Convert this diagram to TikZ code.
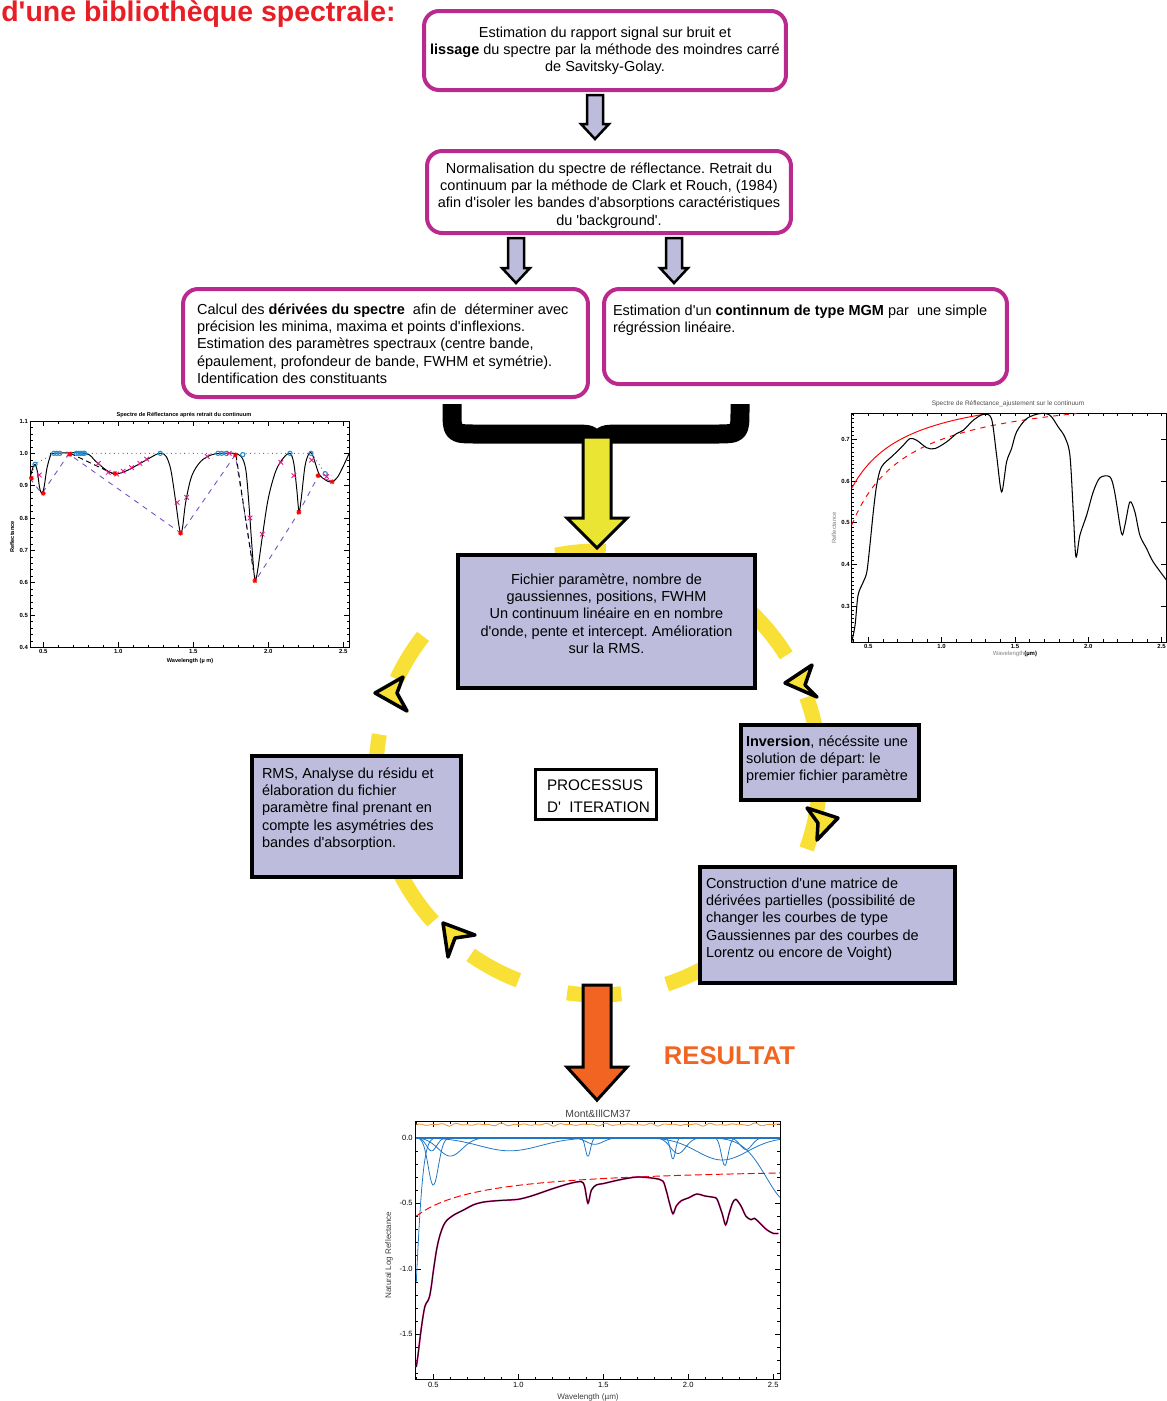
\documentclass[tikz,border=0pt]{standalone}
\usepackage{fontspec}
\usepackage{tikz}
\usetikzlibrary{calc}
\newfontfamily\lib{Liberation Sans}
\definecolor{boxpink}{RGB}{186,41,141}
\definecolor{lav}{RGB}{189,188,220}
\definecolor{cycyellow}{RGB}{248,224,54}
\definecolor{arryellow}{RGB}{233,229,50}
\definecolor{resorange}{RGB}{242,100,34}
\definecolor{titlered}{RGB}{232,30,38}
\definecolor{curveblue}{RGB}{30,118,196}
\definecolor{curveorange}{RGB}{240,150,60}
\definecolor{ptmagenta}{RGB}{228,24,138}
\definecolor{contpurple}{RGB}{120,80,190}
\definecolor{maxblue}{RGB}{40,140,205}
\newcommand{\boxfont}{\lib\fontsize{8.25}{9.9}\selectfont}
\newcommand{\boxtext}[3]{\parbox[c][#2][t]{#1}{#3}}
\newcommand{\blockarrow}[6][blockarr]{\draw[#1] let \p1=#2, \p2=#3 in (\x1-#4,\y1) -- (\x1+#4,\y1) -- (\x1+#4,\y2+#6) -- (\x1+#5,\y2+#6) -- (\x1,\y2) -- (\x1-#5,\y2+#6) -- (\x1-#4,\y2+#6) -- cycle;}
\tikzset{pinkbox/.style={draw=boxpink,line width=0.08cm,rounded corners=0.3cm,fill=white,font=\boxfont},
lavbox/.style={draw=black,line width=0.08cm,fill=lav,font=\boxfont},
blockarr/.style={draw=black,line width=0.05cm,fill=lav},
yelarr/.style={draw=black,line width=0.06cm,fill=arryellow},
orarr/.style={draw=black,line width=0.06cm,fill=resorange},
cycdash/.style={draw=cycyellow,line width=0.3cm},
cycarrow/.style={draw=black,fill=cycyellow,line width=0.07cm,line join=round},
bracepath/.style={line width=0.38cm,line join=round},
lplab/.style={font=\lib\bfseries\fontsize{3.4}{4}\selectfont,inner sep=1pt},
rplab/.style={font=\lib\bfseries\fontsize{3.4}{4}\selectfont,inner sep=1pt},
bplab/.style={font=\lib\fontsize{4.3}{5}\selectfont,inner sep=1.5pt},
tick/.style={line width=.3pt}}
\frenchspacing
\begin{document}
\begin{tikzpicture}[x=0.02cm,y=-0.02cm]
\useasboundingbox (0,0) rectangle (1167,1401);
\foreach \sa/\sb in {32/68,88/101,142/155,170/222,235/249,262/276,288/328,340/380}
  \draw[cycdash] plot[domain=\sa:\sb,samples=30,variable=\ang] ({598+222*cos(\ang)},{773-222*sin(\ang)});
\draw[cycarrow] (375,693) -- (403,677) -- (397,693) -- (407,711) -- cycle;
\draw[cycarrow] (785,683) -- (812,665) -- (805,685) -- (817,697) -- cycle;
\draw[cycarrow] (838,818) -- (807,808) -- (818,823) -- (817,840) -- cycle;
\draw[cycarrow] (443,923) -- (475,935) -- (455,938) -- (448,957) -- cycle;

\node[font=\lib\bfseries\fontsize{16.2}{18}\selectfont,text=titlered,anchor=base west,inner sep=0] (title) at (1,21) {d'une bibliothèque spectrale:};
\node[pinkbox,inner xsep=0.05cm,inner ysep=0.28cm] (est) at (605,50.5) {\boxtext{7.14cm}{1.02cm}{\centering\strut Estimation du rapport signal sur bruit et\\ \textbf{lissage} du spectre par la méthode des moindres carré\\ de Savitsky-Golay.}};
\node[pinkbox,inner xsep=0.08cm,inner ysep=0.2cm] (norm) at (609,192) {\boxtext{7.12cm}{1.24cm}{\centering\strut Normalisation du spectre de réflectance. Retrait du\\ continuum par la méthode de Clark et Rouch, (1984)\\ afin d'isoler les bandes d'absorptions caractéristiques\\ du 'background'.}};
\node[pinkbox,inner xsep=0.28cm,inner ysep=0.26cm] (deriv) at (385.5,343) {\boxtext{7.54cm}{1.64cm}{\raggedright\strut Calcul des \textbf{dérivées du spectre}\ \ afin de\ \ déterminer avec\\ précision les minima, maxima et points d'inflexions.\\ Estimation des paramètres spectraux (centre bande,\\ épaulement, profondeur de bande, FWHM et symétrie).\\ Identification des constituants}};
\node[pinkbox,inner xsep=0.18cm,inner ysep=0.28cm] (mgm) at (805.5,336.5) {\boxtext{7.7cm}{1.34cm}{\raggedright\strut Estimation d'un \textbf{continnum de type MGM} par\ \ une simple\\ régréssion linéaire.}};
\node[lavbox,inner xsep=0.2cm,inner ysep=0.34cm] (fich) at (606.5,621.5) {\boxtext{5.54cm}{1.98cm}{\centering\strut Fichier paramètre, nombre de\\ gaussiennes, positions, FWHM\\ Un continuum linéaire en en nombre\\ d'onde, pente et intercept. Amélioration\\ sur la RMS.}};
\node[lavbox,inner xsep=0.2cm,inner ysep=0.2cm] (rms) at (356.5,816.5) {\boxtext{3.78cm}{2.02cm}{\raggedright\strut RMS, Analyse du résidu et\\ élaboration du fichier\\ paramètre final prenant en\\ compte les asymétries des\\ bandes d'absorption.}};
\node[lavbox,inner xsep=0.1cm,inner ysep=0.18cm] (inv) at (830,762.5) {\boxtext{3.36cm}{1.14cm}{\raggedright\strut\textbf{Inversion}, nécéssite une\\ solution de départ: le\\ premier fichier paramètre}};
\node[lavbox,inner xsep=0.12cm,inner ysep=0.18cm] (cons) at (827.5,925) {\boxtext{4.86cm}{1.96cm}{\raggedright\strut Construction d'une matrice de\\ dérivées partielles (possibilité de\\ changer les courbes de type\\ Gaussiennes par des courbes de\\ Lorentz ou encore de Voight)}};
\node[draw=black,line width=0.06cm,fill=white,inner xsep=0.24cm,inner ysep=0.12cm,font=\lib\fontsize{8.7}{12.5}\selectfont] (iter) at (596,794) {\boxtext{1.96cm}{0.76cm}{\raggedright\strut PROCESSUS\\ \mbox{D'\ \ ITERATION}}};
\node[font=\lib\bfseries\fontsize{14.6}{16}\selectfont,text=resorange] (res) at (729.5,1056) {RESULTAT};
\node[font=\lib\fontsize{5.9}{7}\selectfont,text=black!75,inner sep=1pt] (tplot) at (598,1114) {Mont\&IllCM37};

\coordinate (a1) at (595,0); \coordinate (a2) at (516,0); \coordinate (a3) at (674,0);
\blockarrow{($(est.south -| a1)+(0,3)$)}{($(norm.north -| a1)+(0,-10)$)}{0.16cm}{0.28cm}{0.3cm}
\blockarrow{($(norm.south -| a2)+(0,3)$)}{($(deriv.north -| a2)+(0,-4)$)}{0.16cm}{0.28cm}{0.3cm}
\blockarrow{($(norm.south -| a3)+(0,3)$)}{($(mgm.north -| a3)+(0,-4)$)}{0.16cm}{0.28cm}{0.3cm}
\coordinate (cusp) at (597,437); \coordinate (loopout) at (597,985);
\draw[bracepath] (452,404) -- (452,410) .. controls (452,434) .. (478,434) -- (570,434) .. controls (592,434) .. (597,444) .. controls (602,434) .. (624,434) -- (714,434) .. controls (740,434) .. (740,410) -- (740,404);
\blockarrow[yelarr]{(cusp)}{($(fich.north -| cusp)+(0,-5)$)}{0.28cm}{0.6cm}{0.6cm}
\blockarrow[orarr]{(loopout)}{($(tplot.north -| loopout)+(0,-8)$)}{0.28cm}{0.6cm}{0.66cm}

\node[font=\lib\bfseries\fontsize{3.2}{4}\selectfont] (ltitle) at (184,415) {Spectre de Réflectance après retrait du continuum};
\node[font=\lib\bfseries\fontsize{3.2}{4}\selectfont] (lxlab) at (190,661) {Wavelength (µ m)};
\node[font=\lib\bfseries\fontsize{3.2}{4}\selectfont,rotate=90] (lylab) at (12,537) {Reflectance};
\begin{scope}[shift={(-31.7,776.6)},x=3cm,y=6.467cm]
\draw[line width=.35pt] (0.411,0.4) rectangle (2.54,1.1);
\foreach \i in {5,...,25} \draw[tick] (\i/10,0.4) -- ++(0,1.5pt) (\i/10,1.1) -- ++(0,-1.5pt);
\foreach \l [count=\k] in {0.5,1.0,1.5,2.0,2.5} {\draw[tick] (\l,0.4) -- ++(0,3pt) (\l,1.1) -- ++(0,-3pt); \node[lplab,below] (lx\k) at (\l,0.4) {\l};}
\foreach \i in {20,...,55} \draw[tick] (0.411,\i/50) -- ++(1.5pt,0) (2.54,\i/50) -- ++(-1.5pt,0);
\foreach \l [count=\k] in {0.4,0.5,0.6,0.7,0.8,0.9,1.0,1.1} {\draw[tick] (0.411,\l) -- ++(3pt,0) (2.54,\l) -- ++(-3pt,0); \node[lplab,left] (ly\k) at (0.411,\l) {\l};}
\draw[contpurple,dotted,line width=.5pt] (0.411,0.923) -- (0.445,0.966) -- (0.57,1.0) -- (2.29,1.0) -- (2.38,0.937) -- (2.42,0.93);
\draw[contpurple,dashed,line width=.5pt] (0.411,0.923) -- (0.49,0.875) -- (0.67,0.998) -- (1.418,0.753) -- (1.78,0.995) -- (1.915,0.606) -- (2.205,0.818) -- (2.335,0.931) -- (2.427,0.912);
\draw[line width=.55pt] plot[smooth,tension=.55] coordinates {(0.411,0.923) (0.43,0.955) (0.445,0.966) (0.46,0.945) (0.475,0.895) (0.49,0.876) (0.505,0.895) (0.525,0.955) (0.55,0.995) (0.57,1.0) (0.78,1.0) (0.85,0.975) (0.92,0.948) (0.98,0.936) (1.05,0.945) (1.12,0.962) (1.2,0.983) (1.26,0.998) (1.29,1.0) (1.32,0.99) (1.35,0.95) (1.38,0.86) (1.405,0.775) (1.418,0.753) (1.43,0.775) (1.45,0.85) (1.49,0.93) (1.55,0.975) (1.62,0.995) (1.68,1.0) (1.77,1.0) (1.82,0.99) (1.85,0.95) (1.87,0.85) (1.89,0.72) (1.905,0.63) (1.915,0.607) (1.93,0.64) (1.96,0.74) (2.0,0.86) (2.05,0.945) (2.1,0.985) (2.145,1.0) (2.17,0.97) (2.19,0.89) (2.205,0.82) (2.22,0.86) (2.245,0.96) (2.27,0.998) (2.29,1.0) (2.31,0.975) (2.34,0.935) (2.38,0.918) (2.42,0.911) (2.46,0.925) (2.5,0.96) (2.54,1.0)};
\draw[line width=.55pt,dash pattern=on 3pt off 2pt] (0.68,1.0) -- (0.97,0.936) (1.785,0.995) -- (1.9,0.64);
\foreach \px/\py in {0.445/0.966,0.57/1,0.59/1,0.61/1,0.72/1,0.735/1,0.75/1,0.765/1,0.775/1,1.28/1,1.665/1,1.69/1,1.72/1,1.83/0.996,2.145/1,2.285/1,2.38/0.937}
  \draw[maxblue,line width=.6pt] (\px,\py) circle (1.2pt);
\foreach \px/\py in {0.473/0.933,0.671/0.998,0.867/0.969,0.933/0.941,0.989/0.936,1.033/0.945,1.089/0.956,1.144/0.969,1.189/0.982,1.393/0.848,1.456/0.864,1.593/0.99,1.74/1.0,1.878/0.8,1.96/0.75,2.084/0.972,2.171/0.931,2.289/0.979,2.389/0.928}
  \draw[ptmagenta,line width=.5pt] (\px,\py) +(-1.3pt,-1.3pt) -- +(1.3pt,1.3pt) +(-1.3pt,1.3pt) -- +(1.3pt,-1.3pt);
\foreach \px/\py in {0.422/0.923,0.5/0.876,0.678/0.997,0.978/0.938,1.416/0.753,1.78/0.995,1.911/0.606,2.204/0.818,2.333/0.931,2.427/0.912}
  \draw[red,line width=.5pt] (\px,\py) +(-1.4pt,0) -- +(1.4pt,0) +(0,-1.4pt) -- +(0,1.4pt) +(-1pt,-1pt) -- +(1pt,1pt) +(-1pt,1pt) -- +(1pt,-1pt);
\end{scope}

\node[font=\lib\fontsize{3.7}{4.5}\selectfont,text=black!70] (rtitle) at (1008,404) {Spectre de Réflectance\_ajustement sur le continuum};
\node[font=\lib\fontsize{3.4}{4}\selectfont] (rxlab) at (1015,654) {\textcolor{black!50}{Wavelength}\textbf{(µm)}};
\node[font=\lib\fontsize{3.4}{4}\selectfont,text=black!50,rotate=90] (rylab) at (834,528) {Reflectance};
\begin{scope}[shift={(795,731)},x=2.933cm,y=8.333cm]
\draw[line width=.35pt] (0.387,0.214) rectangle (2.534,0.762);
\foreach \i in {4,...,25} \draw[tick] (\i/10,0.214) -- ++(0,1.5pt) (\i/10,0.762) -- ++(0,-1.5pt);
\foreach \l [count=\k] in {0.5,1.0,1.5,2.0,2.5} {\draw[tick] (\l,0.214) -- ++(0,3pt); \node[rplab,below] (rx\k) at (\l,0.214) {\l};}
\foreach \i in {22,...,76} \draw[tick] (0.387,\i/100) -- ++(1.3pt,0);
\foreach \l [count=\k] in {0.3,0.4,0.5,0.6,0.7} {\draw[tick] (0.387,\l) -- ++(3pt,0) (2.534,\l) -- ++(-3pt,0); \node[rplab,left] (ry\k) at (0.387,\l) {\l};}
\draw[red,line width=.55pt] plot[domain=0.387:1.284,samples=40,variable=\w] (\w,{0.8365-0.0982/\w});
\draw[red,line width=.55pt,dashed] plot[domain=0.387:1.92,samples=50,variable=\w] (\w,{0.8295-0.1295/\w});
\draw[line width=.6pt] plot[smooth,tension=.5] coordinates {(0.387,0.214) (0.41,0.255) (0.43,0.326) (0.466,0.358) (0.49,0.382) (0.511,0.446) (0.534,0.526) (0.557,0.59) (0.59,0.634) (0.67,0.662) (0.739,0.686) (0.784,0.702) (0.83,0.698) (0.898,0.68) (0.955,0.678) (1.034,0.694) (1.102,0.714) (1.148,0.722) (1.216,0.746) (1.284,0.76) (1.34,0.75) (1.375,0.662) (1.409,0.574) (1.443,0.646) (1.477,0.678) (1.511,0.718) (1.58,0.75) (1.67,0.762) (1.739,0.758) (1.795,0.73) (1.84,0.706) (1.875,0.662) (1.898,0.526) (1.916,0.418) (1.943,0.47) (1.989,0.518) (2.034,0.574) (2.08,0.608) (2.148,0.61) (2.18,0.574) (2.227,0.474) (2.25,0.494) (2.284,0.55) (2.318,0.526) (2.352,0.47) (2.398,0.438) (2.443,0.406) (2.534,0.362)};
\end{scope}

\node[font=\lib\fontsize{4.6}{5.5}\selectfont,text=black!75] (bxlab) at (588,1397) {Wavelength (µm)};
\node[font=\lib\fontsize{4.6}{5.5}\selectfont,text=black!75,rotate=90] (bylab) at (389,1255) {Natural Log Reflectance};
\begin{scope}[shift={(348.3,1137.7)},x=3.4cm,y=2.622cm]
\draw[line width=.35pt] (0.396,-1.843) rectangle (2.54,0.122);
\foreach \i in {4,...,25} \draw[tick] (\i/10,-1.843) -- ++(0,1.5pt) (\i/10,0.122) -- ++(0,-1.5pt);
\foreach \l [count=\k] in {0.5,1.0,1.5,2.0,2.5} {\draw[tick] (\l,-1.843) -- ++(0,3pt) (\l,0.122) -- ++(0,-3pt); \node[bplab,below] (bx\k) at (\l,-1.843) {\l};}
\foreach \i in {-18,...,1} \draw[tick] (0.396,\i/10) -- ++(1.5pt,0) (2.54,\i/10) -- ++(-1.5pt,0);
\foreach \v/\l [count=\k] in {0/0.0,-0.5/-0.5,-1/-1.0,-1.5/-1.5} {\draw[tick] (0.396,\v) -- ++(3pt,0) (2.54,\v) -- ++(-3pt,0); \node[bplab,left] (by\k) at (0.396,\v) {\l};}
\draw[curveorange,line width=.5pt] plot[domain=0.4:2.54,samples=260,variable=\w] (\w,{0.1+0.005*sin(2900*\w)+0.004*sin(5300*\w)+0.003*sin(4100*\w)});
\foreach \c/\s/\d/\lo/\hi in {0.35/0.045/2.04/0.4/0.53, 0.5/0.03/0.36/0.4/0.62, 0.49/0.03/0.1/0.4/0.61, 0.6/0.07/0.14/0.4/0.88, 0.95/0.18/0.1/0.4/1.67, 1.41/0.015/0.14/1.35/1.47, 1.45/0.05/0.05/1.25/1.65, 1.91/0.015/0.16/1.85/1.97, 1.94/0.045/0.12/1.76/2.12, 2.2/0.15/0.17/1.6/2.54, 2.215/0.02/0.21/2.135/2.295, 2.34/0.035/0.09/2.2/2.48, 2.6/0.14/0.5/2.1/2.54}
  \draw[curveblue,line width=.45pt] plot[domain=\lo:\hi,samples=60,variable=\w] (\w,{-\d*exp(-(\w-\c)*(\w-\c)/(2*\s*\s))});
\draw[curveblue,line width=1.2pt] (0.396,0) -- (2.54,0);
\draw[red,line width=.55pt,dash pattern=on 4pt off 2pt] plot[domain=0.4:2.54,samples=60,variable=\w] (\w,{-0.2075-0.156/\w});
\foreach \lw/\col in {0.95pt/ptmagenta,0.45pt/black}
  \draw[\col,line width=\lw] plot[smooth,tension=.5] coordinates {(0.40,-1.75) (0.41,-1.66) (0.42,-1.55) (0.43,-1.45) (0.44,-1.36) (0.45,-1.29) (0.46,-1.26) (0.47,-1.24) (0.48,-1.20) (0.49,-1.12) (0.50,-1.02) (0.52,-0.85) (0.54,-0.74) (0.56,-0.67) (0.58,-0.63) (0.62,-0.59) (0.68,-0.55) (0.74,-0.51) (0.80,-0.49) (0.88,-0.48) (0.95,-0.475) (1.0,-0.47) (1.05,-0.455) (1.1,-0.435) (1.2,-0.39) (1.3,-0.35) (1.37,-0.335) (1.39,-0.37) (1.41,-0.50) (1.43,-0.40) (1.46,-0.36) (1.5,-0.35) (1.6,-0.32) (1.7,-0.30) (1.8,-0.31) (1.85,-0.33) (1.87,-0.40) (1.89,-0.50) (1.91,-0.58) (1.93,-0.52) (1.96,-0.48) (2.0,-0.46) (2.05,-0.43) (2.1,-0.445) (2.15,-0.455) (2.17,-0.47) (2.2,-0.58) (2.22,-0.665) (2.24,-0.58) (2.26,-0.50) (2.28,-0.47) (2.31,-0.52) (2.34,-0.60) (2.37,-0.625) (2.39,-0.615) (2.42,-0.65) (2.46,-0.70) (2.5,-0.73) (2.53,-0.73)};
\end{scope}
\end{tikzpicture}
\end{document}
